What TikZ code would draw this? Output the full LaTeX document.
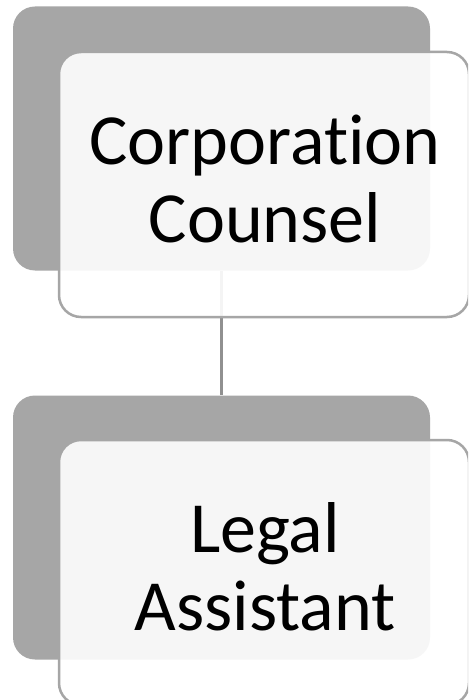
\documentclass[tikz,border=0pt]{standalone}
\usepackage{fontspec}
\setmainfont[Ligatures=NoCommon]{Carlito}
\definecolor{shadegray}{HTML}{A6A6A6}
\definecolor{linkgray}{HTML}{909090}
\tikzset{
  backbox/.style={rectangle, rounded corners=22pt, fill=shadegray, draw=none,
    inner sep=0pt, minimum width=417pt, minimum height=264pt},
  frontbox/.style={rectangle, rounded corners=22pt, fill=white, fill opacity=0.9,
    draw=shadegray, draw opacity=1, line width=2.5pt,
    inner sep=0pt, minimum width=410pt, minimum height=265pt},
  boxtext/.style={align=center, text=black, inner sep=0pt,
    font=\fontsize{72}{78}\selectfont},
  link/.style={draw=linkgray, line width=2.5pt}
}
\begin{document}
\begin{tikzpicture}[x=1pt, y=-1pt]
  \clip (0,0) rectangle (468,700);
  \fill[white] (0,0) rectangle (468,700);

  % shaded back plates
  \node[backbox] (back1) at (221.5,138.5) {};
  \node[backbox] (back2) at (221.5,527.5) {};

  % connector between the two levels, drawn behind the front cards
  \draw[link] (back1.south) -- (back2.north);

  % translucent front cards
  \node[frontbox] (front1) at (264,184.5) {};
  \node[frontbox] (front2) at (264,572.5) {};

  % labels
  \node[boxtext] (t1) at (265,179) {Corporation\\Counsel};
  \node[boxtext] (t2) at (265,567) {Legal\\Assistant};
\end{tikzpicture}
\end{document}
